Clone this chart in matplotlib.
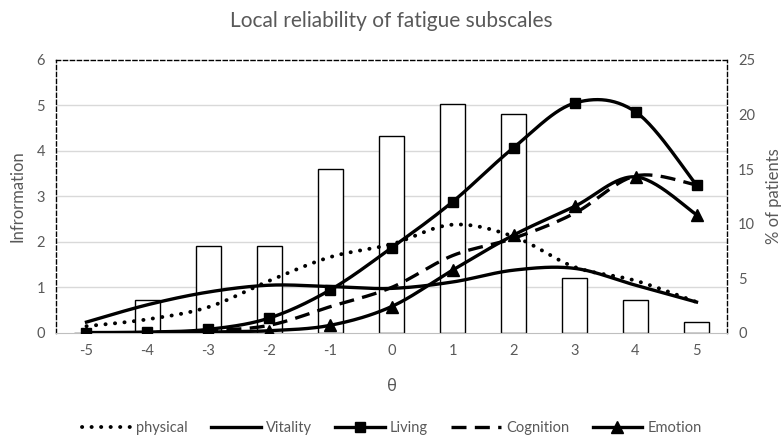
import numpy as np
import matplotlib
matplotlib.use("Agg")
import matplotlib.pyplot as plt
from matplotlib.lines import Line2D

plt.rcParams['font.family'] = ['Lato', 'DejaVu Sans']
plt.rcParams['axes.unicode_minus'] = False

# theta levels and share of patients per level
theta = [-5, -4, -3, -2, -1, 0, 1, 2, 3, 4, 5]
patients = [0, 3, 8, 8, 15, 18, 21, 20, 5, 3, 1]

# information curves per subscale
physical = [0.15, 0.3, 0.57, 1.15, 1.67, 1.95, 2.38, 2.12, 1.45, 1.15, 0.68]
vitality = [0.24, 0.62, 0.9, 1.05, 1.02, 0.98, 1.12, 1.38, 1.42, 1.05, 0.68]
living = [0.01, 0.02, 0.08, 0.33, 0.95, 1.87, 2.88, 4.07, 5.05, 4.86, 3.25]
cognition = [0.0, 0.01, 0.05, 0.17, 0.58, 1.0, 1.7, 2.08, 2.63, 3.45, 3.25]
emotion = [0.0, 0.0, 0.02, 0.05, 0.17, 0.58, 1.38, 2.15, 2.78, 3.43, 2.6]

grey = '#595959'
dotted = (0, (0.05, 2.4))
dashed = (0, (4.5, 2.5))


def smooth(xs, ys, n=30):
    # Excel-like smoothed line: cubic bezier segments with Catmull-Rom tangents
    p = np.column_stack([xs, ys]).astype(float)
    ext = np.vstack([p[0], p, p[-1]])
    t = np.linspace(0, 1, n)[:, None]
    out = []
    for i in range(len(p) - 1):
        p0, p1, p2, p3 = ext[i], ext[i + 1], ext[i + 2], ext[i + 3]
        c1 = p1 + (p2 - p0) / 6
        c2 = p2 - (p3 - p1) / 6
        seg = ((1 - t) ** 3) * p1 + 3 * ((1 - t) ** 2) * t * c1 + 3 * (1 - t) * t ** 2 * c2 + t ** 3 * p2
        out.append(seg if i == 0 else seg[1:])
    out = np.vstack(out)
    return out[:, 0], out[:, 1]


fig = plt.figure(figsize=(7.83, 4.37), dpi=100)
ax2 = fig.add_axes([0.0715, 0.238, 0.857, 0.625])
ax = ax2.twinx()
ax.yaxis.tick_left()
ax.yaxis.set_label_position('left')
ax2.yaxis.tick_right()
ax2.yaxis.set_label_position('right')
ax.set_zorder(ax2.get_zorder() + 1)
ax.patch.set_visible(False)

# bars (% of patients) on the right axis
ax2.bar(theta, patients, width=0.4, facecolor='white', edgecolor='black', linewidth=1, zorder=2)
ax2.set_ylim(0, 25)
ax2.set_yticks(range(0, 26, 5))
ax2.set_yticks(np.arange(1, 6) * 25 / 6, minor=True)
ax2.grid(True, which='minor', axis='y', color='#d9d9d9', linewidth=1, zorder=0)
ax2.tick_params(which='minor', length=0)
ax2.set_ylabel('% of patients', color=grey, fontsize=12, labelpad=8)

lw = 2.4
xs, ys = smooth(theta, physical)
ax.plot(xs, ys, color='black', lw=2.8, linestyle=dotted, dash_capstyle='round')
xs, ys = smooth(theta, vitality)
ax.plot(xs, ys, color='black', lw=lw)
xs, ys = smooth(theta, living)
ax.plot(xs, ys, color='black', lw=lw)
ax.plot(theta, living, linestyle='none', marker='s', ms=7, color='black')
xs, ys = smooth(theta, cognition)
ax.plot(xs, ys, color='black', lw=lw, linestyle=dashed)
xs, ys = smooth(theta, emotion)
ax.plot(xs, ys, color='black', lw=lw)
ax.plot(theta, emotion, linestyle='none', marker='^', ms=8, color='black')

ax.set_ylim(0, 6)
ax.set_xlim(-5.5, 5.5)
ax2.set_xlim(-5.5, 5.5)
ax.set_xticks(theta)
ax.set_yticks(range(0, 7))
ax.set_ylabel('Infrormation', color=grey, fontsize=12, labelpad=8)
ax2.set_xlabel('θ', color=grey, fontsize=12, labelpad=14)

for a in (ax, ax2):
    a.tick_params(length=0, labelcolor=grey, labelsize=10.5, pad=8)
    for s in a.spines.values():
        s.set_visible(False)
for side in ('left', 'top', 'right'):
    ax2.spines[side].set_visible(True)
    ax2.spines[side].set_linestyle((0, (3, 2)))
    ax2.spines[side].set_linewidth(1)
    ax2.spines[side].set_color('black')
ax2.spines['bottom'].set_visible(True)
ax2.spines['bottom'].set_color('#bfbfbf')

fig.suptitle('Local reliability of fatigue subscales', color=grey, fontsize=15, y=0.975)

handles = [
    Line2D([], [], color='black', lw=2.8, linestyle=dotted, dash_capstyle='round'),
    Line2D([], [], color='black', lw=lw),
    Line2D([], [], color='black', lw=lw, marker='s', ms=7),
    Line2D([], [], color='black', lw=lw, linestyle=dashed),
    Line2D([], [], color='black', lw=lw, marker='^', ms=8),
]
labels = ['physical', 'Vitality', 'Living', 'Cognition', 'Emotion']
fig.legend(handles, labels, loc='lower center', bbox_to_anchor=(0.5, -0.025), ncol=5,
           frameon=False, fontsize=10.5, labelcolor=grey, handlelength=3.4,
           columnspacing=1.6, handletextpad=0.35)

fig.savefig('out.png', dpi=100)
